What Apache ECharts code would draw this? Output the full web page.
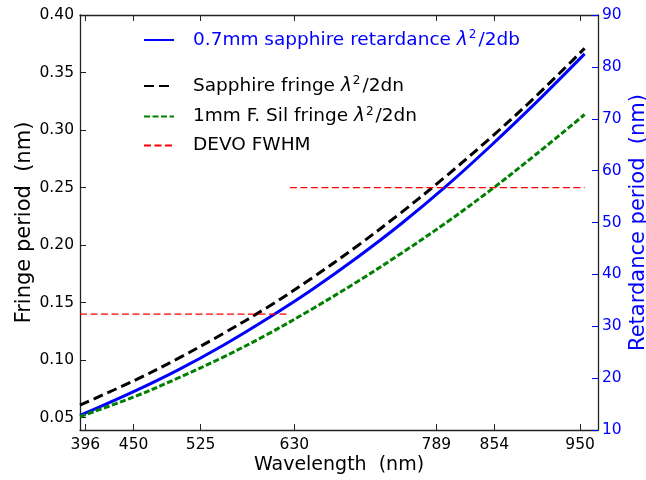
<!DOCTYPE html>
<html>
<head>
<meta charset="utf-8">
<script src="https://cdn.jsdelivr.net/npm/echarts@6/dist/echarts.min.js"></script>
<style>
html,body{margin:0;padding:0;background:#fff;}
#chart{width:646px;height:480px;}
</style>
</head>
<body>
<div id="chart"></div>
<script>
// ---- data ----
var wavelengths    = [390, 450, 500, 550, 600, 650, 700, 750, 800, 850, 900, 955];
var sapphireFringe = [0.061, 0.082, 0.1015, 0.123, 0.146, 0.1715, 0.199, 0.2285, 0.260, 0.2935, 0.329, 0.371];
var fsilFringe     = [0.051, 0.068, 0.0845, 0.1025, 0.1225, 0.1445, 0.168, 0.193, 0.2195, 0.248, 0.2785, 0.3135];
var retardance     = [12.8, 17.4, 21.6, 26.3, 31.5, 37.1, 43.2, 49.8, 57.0, 64.8, 73.0, 82.5];
var devoLowX       = [390, 625];
var devoLowY       = 0.14;
var devoHighX      = [625, 955];
var devoHighY      = 0.25;
var xTicks         = [396, 450, 525, 630, 789, 854, 950];
var yLeftTicks     = [0.05, 0.10, 0.15, 0.20, 0.25, 0.30, 0.35, 0.40];

var names = {
  ret: '0.7mm sapphire retardance λ²/2db',
  sap: 'Sapphire fringe λ²/2dn',
  fs:  '1mm F. Sil fringe λ²/2dn',
  devo:'DEVO FWHM'
};

function pairs(xs, ys) { return xs.map(function (x, i) { return [x, ys[i]]; }); }

var FONT = 'DejaVu Sans';
var BLUE = '#0000ff';
var RED = '#ff0000';

function richFmt(n) {
  var p = n.split('λ²');
  if (p.length < 2) return '{t|' + n + '}';
  return '{t|' + p[0] + '}{i|λ}{s|2}{t|' + p[1] + '}';
}
function richStyles(color) {
  return {
    t: {fontSize: 18.5, fontFamily: FONT, color: color, lineHeight: 22},
    i: {fontSize: 18.5, fontFamily: FONT, fontStyle: 'italic', color: color, lineHeight: 22},
    s: {fontSize: 12, fontFamily: FONT, color: color, lineHeight: 22, verticalAlign: 'top', padding: [0, 2, 0, 1]}
  };
}

var chart = echarts.init(document.getElementById('chart'), null, {renderer: 'canvas'});
var axisColor = '#222';
var devoStyle = {color: RED, width: 1.2, type: [7, 3.5], opacity: 1};

var option = {
  animation: false,
  backgroundColor: '#fff',
  textStyle: {fontFamily: FONT},
  grid: {left: 80, top: 15, width: 518, height: 415, containLabel: false, outerBoundsMode: 'none'},
  legend: [
    {
      data: [names.ret],
      left: 138, top: 24, orient: 'vertical',
      itemWidth: 30, itemHeight: 14,
      itemStyle: {opacity: 0},
      textStyle: {padding: [0, 0, 0, 14], rich: richStyles(BLUE)},
      formatter: richFmt
    },
    {
      data: [names.sap, names.fs, names.devo],
      left: 138, top: 70, orient: 'vertical',
      itemWidth: 30, itemHeight: 14, itemGap: 10,
      itemStyle: {opacity: 0},
      textStyle: {padding: [0, 0, 0, 14], rich: richStyles('#000')},
      formatter: richFmt
    }
  ],
  xAxis: [
    {
      type: 'value', min: 390, max: 970, position: 'bottom',
      axisLine: {show: true, onZero: false, lineStyle: {color: axisColor, width: 1.3}},
      axisTick: {show: true, inside: true, length: 6, customValues: xTicks, lineStyle: {color: axisColor}},
      axisLabel: {customValues: xTicks, fontSize: 15.5, color: '#000', fontFamily: FONT, margin: 7},
      splitLine: {show: false},
      name: 'Wavelength  (nm)', nameLocation: 'middle', nameGap: 26, nameMoveOverlap: false,
      nameTextStyle: {fontSize: 19, color: '#000', fontFamily: FONT}
    },
    {
      type: 'value', min: 390, max: 970, position: 'top',
      axisLine: {show: true, onZero: false, lineStyle: {color: axisColor, width: 1.3}},
      axisTick: {show: true, inside: true, length: 6, customValues: xTicks, lineStyle: {color: axisColor}},
      axisLabel: {show: false},
      splitLine: {show: false}
    }
  ],
  yAxis: [
    {
      type: 'value', min: 0.0393, max: 0.40, position: 'left',
      axisLine: {show: true, onZero: false, lineStyle: {color: axisColor, width: 1.3}},
      axisTick: {show: true, inside: true, length: 6, customValues: yLeftTicks, lineStyle: {color: axisColor}},
      axisLabel: {customValues: yLeftTicks, fontSize: 15.5, color: '#000', fontFamily: FONT, margin: 6,
                  formatter: function (v) { return v.toFixed(2); }},
      splitLine: {show: false},
      name: 'Fringe period  (nm)', nameLocation: 'middle', nameGap: 45, nameRotate: 90, nameMoveOverlap: false,
      nameTextStyle: {fontSize: 21, color: '#000', fontFamily: FONT}
    },
    {
      type: 'value', min: 10, max: 90, interval: 10, position: 'right',
      axisLine: {show: true, onZero: false, lineStyle: {color: axisColor, width: 1.3}},
      axisTick: {show: true, inside: true, length: 6, lineStyle: {color: BLUE}},
      axisLabel: {fontSize: 15.5, color: BLUE, fontFamily: FONT, margin: 4},
      splitLine: {show: false},
      name: 'Retardance period  (nm)', nameLocation: 'middle', nameGap: 30, nameRotate: 90, nameMoveOverlap: false,
      nameTextStyle: {fontSize: 21, color: BLUE, fontFamily: FONT}
    }
  ],
  series: [
    {
      name: names.ret, type: 'line', yAxisIndex: 1, xAxisIndex: 0,
      data: pairs(wavelengths, retardance), smooth: 0.35, symbol: 'none',
      lineStyle: {color: BLUE, width: 3, type: 'solid'}, itemStyle: {color: BLUE}, z: 3
    },
    {
      name: names.sap, type: 'line', yAxisIndex: 0,
      data: pairs(wavelengths, sapphireFringe), smooth: 0.35, symbol: 'none',
      lineStyle: {color: '#000', width: 3, type: [10, 5]}, itemStyle: {color: '#000'}, z: 4
    },
    {
      name: names.fs, type: 'line', yAxisIndex: 0,
      data: pairs(wavelengths, fsilFringe), smooth: 0.35, symbol: 'none',
      lineStyle: {color: '#008000', width: 3, type: [6, 2.5]}, itemStyle: {color: '#008000'}, z: 4
    },
    {
      name: names.devo, type: 'line', yAxisIndex: 0,
      data: devoLowX.map(function (x) { return [x, devoLowY]; }), symbol: 'none',
      lineStyle: devoStyle, itemStyle: {color: RED}, z: 5
    },
    {
      name: 'DEVO FWHM (upper)', type: 'line', yAxisIndex: 0,
      data: devoHighX.map(function (x) { return [x, devoHighY]; }), symbol: 'none',
      lineStyle: devoStyle, itemStyle: {color: RED}, z: 5
    }
  ]
};
chart.setOption(option);
</script>
</body>
</html>
